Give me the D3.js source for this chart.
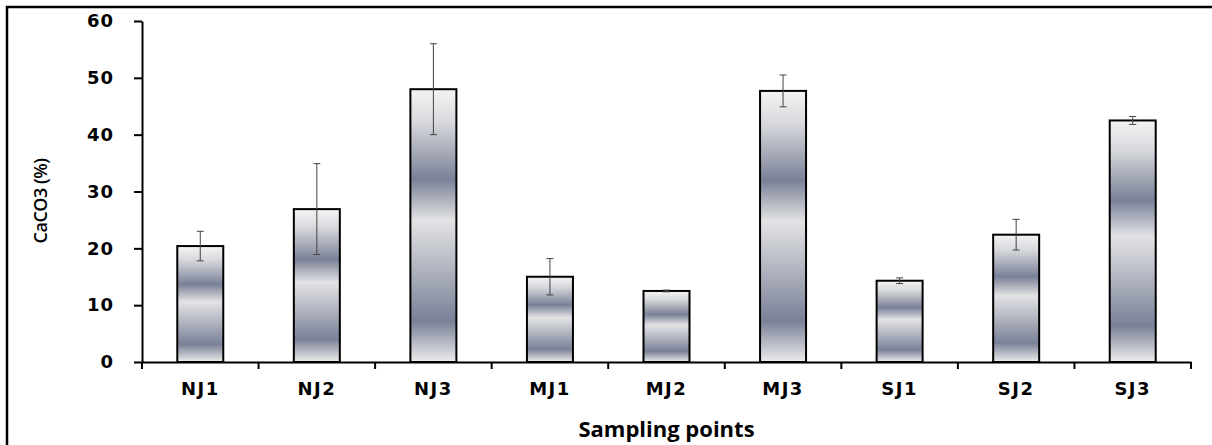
<!DOCTYPE html>
<html>
<head>
<meta charset="utf-8">
<script src="https://cdn.jsdelivr.net/npm/d3@7"></script>
<style>
  body { margin: 0; background: #fff; }
</style>
</head>
<body>
<script>
// data
const categories = ["NJ1", "NJ2", "NJ3", "MJ1", "MJ2", "MJ3", "SJ1", "SJ2", "SJ3"];
const values = [20.4, 26.9, 48.0, 15.0, 12.5, 47.7, 14.3, 22.4, 42.5];
const errors = [2.6, 8.0, 8.0, 3.2, 0.15, 2.8, 0.5, 2.7, 0.7];
const yTicks = [0, 10, 20, 30, 40, 50, 60];

const WIDTH = 1212;
const HEIGHT = 445;
const margin = { top: 21, right: 21, bottom: 83, left: 142 };

const svg = d3.select("body").append("svg")
  .attr("width", WIDTH)
  .attr("height", HEIGHT);

// outer frame (cut at right and bottom like the original)
svg.append("rect")
  .attr("x", 7).attr("y", 7)
  .attr("width", WIDTH + 20).attr("height", HEIGHT + 20)
  .attr("fill", "none").attr("stroke", "#000").attr("stroke-width", 2.5);

// gradient for bars
const grad = svg.append("defs").append("linearGradient")
  .attr("id", "barGrad")
  .attr("x1", 0).attr("y1", 0).attr("x2", 0).attr("y2", 1);
[[0, "#f4f4f4"], [0.12, "#d8d9dd"], [0.33, "#7a8197"], [0.48, "#e3e3e5"],
 [0.62, "#bcbfc8"], [0.85, "#7a8197"], [1, "#ededed"]].forEach(s => {
  grad.append("stop").attr("offset", s[0]).attr("stop-color", s[1]);
});

const x = d3.scaleBand()
  .domain(categories)
  .range([margin.left, WIDTH - margin.right]);

const y = d3.scaleLinear()
  .domain([0, 60])
  .range([HEIGHT - margin.bottom, margin.top]);

const barW = 46;
const g = svg.append("g");

// bars
g.selectAll("rect.bar")
  .data(values)
  .join("rect")
  .attr("class", "bar")
  .attr("x", (d, i) => x(categories[i]) + x.bandwidth() / 2 - barW / 2)
  .attr("y", d => y(d))
  .attr("width", barW)
  .attr("height", d => y(0) - y(d))
  .attr("fill", "url(#barGrad)")
  .attr("stroke", "#000")
  .attr("stroke-width", 2);

// error bars
const eb = g.selectAll("g.err")
  .data(values)
  .join("g")
  .attr("class", "err")
  .attr("transform", (d, i) => `translate(${x(categories[i]) + x.bandwidth() / 2},0)`)
  .attr("stroke", "#444")
  .attr("stroke-width", 1);
eb.append("line")
  .attr("y1", (d, i) => y(d + errors[i]))
  .attr("y2", (d, i) => y(d - errors[i]));
eb.append("line")
  .attr("x1", -3.5).attr("x2", 3.5)
  .attr("y1", (d, i) => y(d + errors[i]))
  .attr("y2", (d, i) => y(d + errors[i]));
eb.append("line")
  .attr("x1", -3.5).attr("x2", 3.5)
  .attr("y1", (d, i) => y(d - errors[i]))
  .attr("y2", (d, i) => y(d - errors[i]));

// y axis
const yAxis = svg.append("g")
  .attr("transform", `translate(${margin.left},0)`)
  .call(d3.axisLeft(y).tickValues(yTicks).tickSize(8).tickSizeOuter(0).tickPadding(20));
yAxis.select(".domain").attr("stroke-width", 2);
yAxis.selectAll(".tick line").attr("stroke-width", 2);
yAxis.selectAll(".tick text")
  .attr("font-family", "DejaVu Sans")
  .attr("font-weight", "bold")
  .attr("font-size", 18)
  .attr("letter-spacing", 1)
  .attr("fill", "#000");

// x axis
const xAxis = svg.append("g")
  .attr("transform", `translate(0,${y(0)})`)
  .call(d3.axisBottom(x).tickSize(0).tickPadding(20));
xAxis.select(".domain").attr("stroke-width", 2);
xAxis.selectAll(".tick text")
  .attr("font-family", "DejaVu Sans")
  .attr("font-weight", "bold")
  .attr("font-size", 18)
  .attr("letter-spacing", 1.5)
  .attr("fill", "#000");
// tick marks at category boundaries
const edges = categories.map(c => x(c)).concat([WIDTH - margin.right]);
xAxis.selectAll("line.edge")
  .data(edges)
  .join("line")
  .attr("class", "edge")
  .attr("x1", d => d).attr("x2", d => d)
  .attr("y1", 0).attr("y2", 7)
  .attr("stroke", "#000")
  .attr("stroke-width", 2);

// axis titles
svg.append("text")
  .attr("x", (margin.left + WIDTH - margin.right) / 2)
  .attr("y", 437)
  .attr("text-anchor", "middle")
  .attr("font-family", "Open Sans")
  .attr("font-weight", "bold")
  .attr("font-size", 22)
  .text("Sampling points");

svg.append("text")
  .attr("transform", "translate(47,201) rotate(-90)")
  .attr("text-anchor", "middle")
  .attr("font-family", "Open Sans")
  .attr("font-weight", 600)
  .attr("font-size", 18)
  .attr("letter-spacing", -0.5)
  .text("CaCO3 (%)");
</script>
</body>
</html>
